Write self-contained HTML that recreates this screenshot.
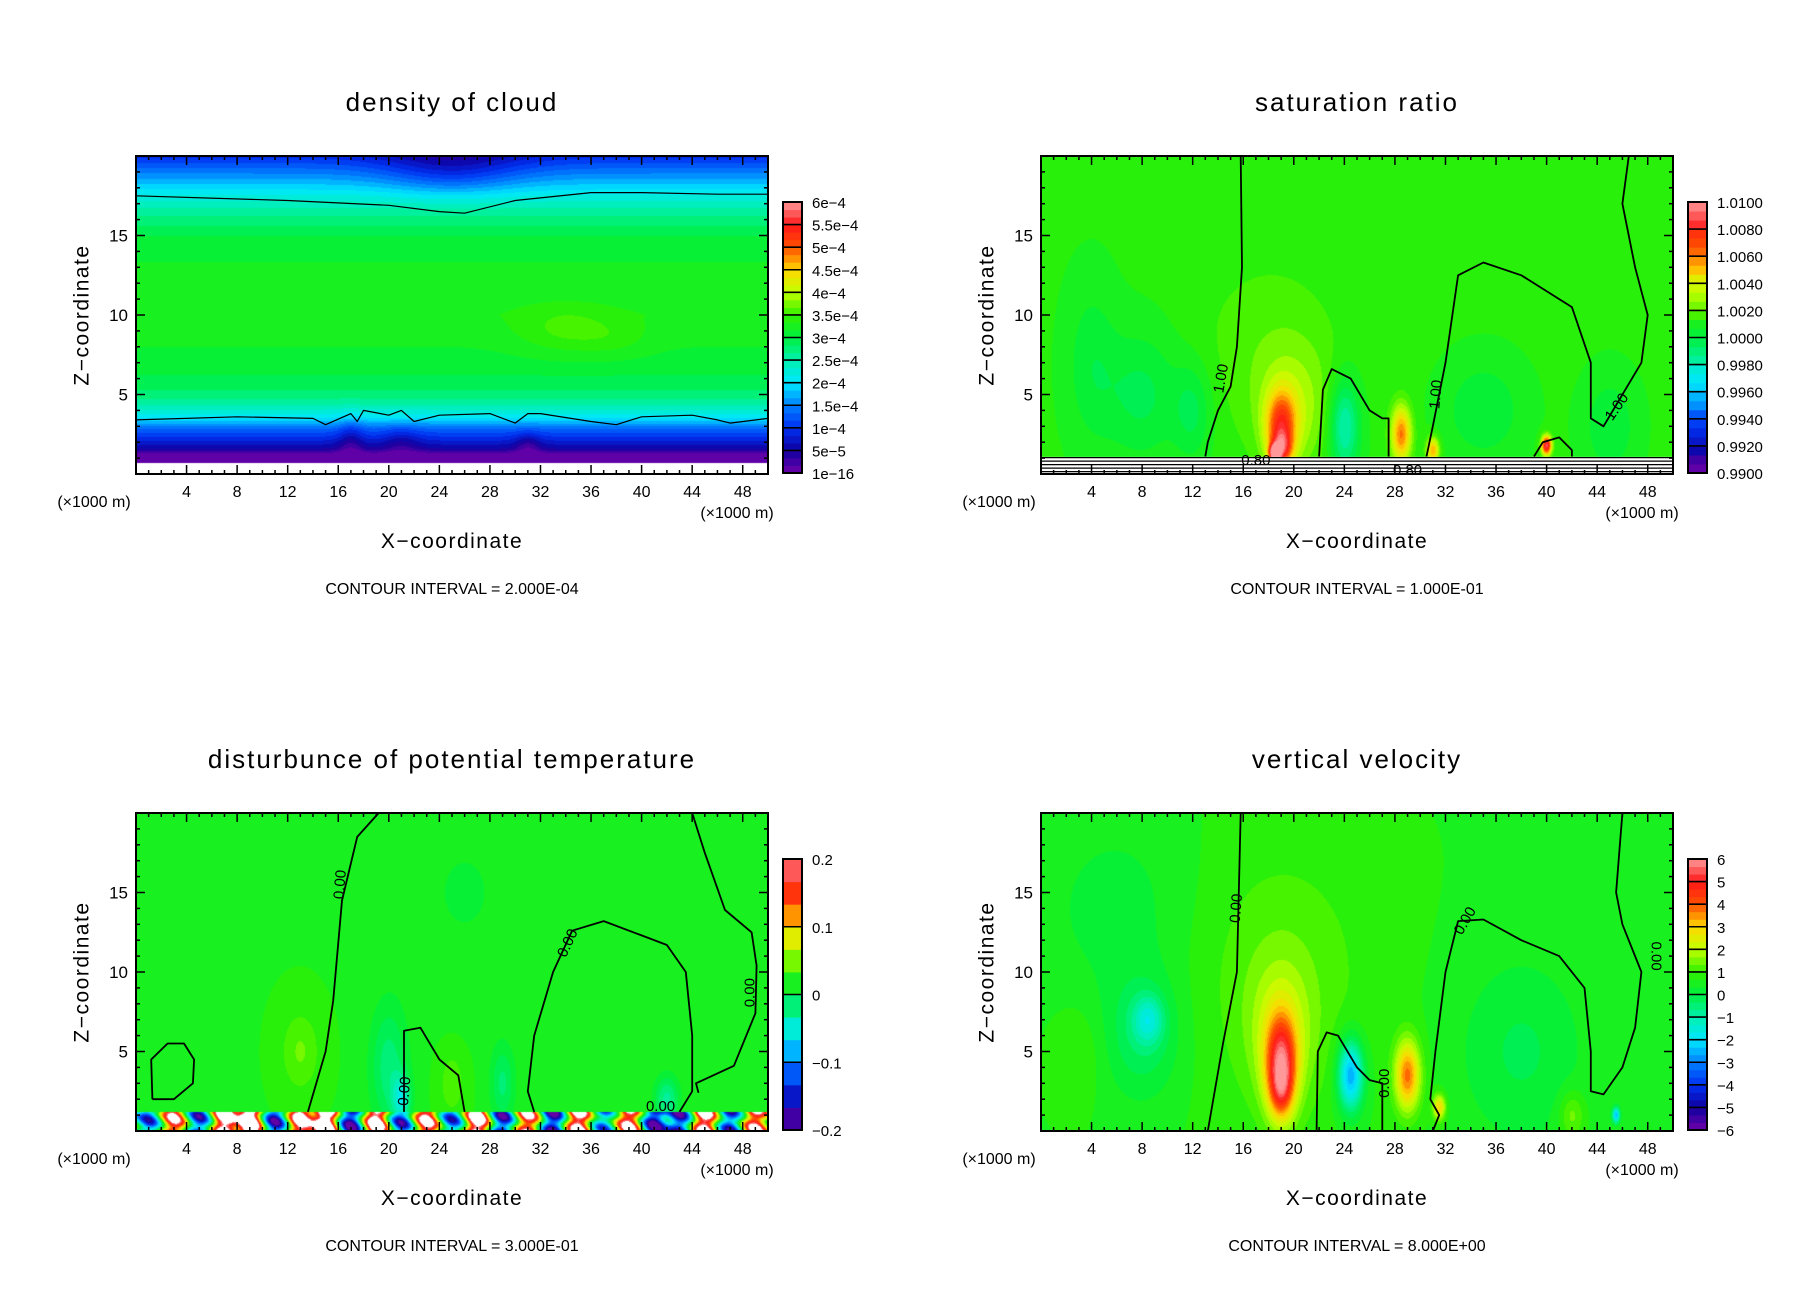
<!DOCTYPE html>
<html><head><meta charset="utf-8">
<style>
html,body{margin:0;padding:0;background:#fff;}
#root{position:relative;width:1808px;height:1308px;overflow:hidden;font-family:"Liberation Sans",sans-serif;}
canvas{position:absolute;}
svg{position:absolute;left:0;top:0;}
</style></head>
<body>
<div id="root">
<svg id="svg" width="1808" height="1308"></svg>
</div>
<script>
// ---------- data ----------
const p1ProfileZ = [0, 0.7, 0.71, 1.3, 1.6, 2.2, 2.8, 3.5, 4.5, 5.5, 7, 10, 13, 15, 16.5, 17.5, 18.5, 19.5, 20];
const p1ProfileV = [0, 0, 0.05, 0.15, 0.5, 0.9, 1.3, 2.0, 2.6, 2.9, 3.1, 3.3, 3.2, 3.0, 2.6, 2.2, 1.7, 1.2, 0.95];
const p1BlobX = [34, 38, 25, 25, 17, 21, 31];
const p1BlobZ = [9, 8.5, 20, 18.5, 2, 2, 1.8];
const p1BlobRX = [4, 3, 6, 5, 1, 1.5, 1];
const p1BlobRZ = [1.5, 1.2, 1.5, 1.2, 1.5, 1, 0.8];
const p1BlobV = [0.3, 0.15, -0.5, -0.3, -0.4, -0.3, -0.4];
const p1LowerX = [0,8,14,15,17,17.5,18,20,21,22,24,28,30,31,32,36,38,40,44,46,47,50];
const p1LowerZ = [3.4,3.6,3.5,3.1,3.8,3.3,4.0,3.7,4.0,3.3,3.7,3.8,3.2,3.8,3.8,3.3,3.1,3.6,3.7,3.4,3.2,3.5];
const p1UpperX = [0,12,20,24,26,30,36,40,46,50];
const p1UpperZ = [17.5,17.2,16.9,16.5,16.4,17.2,17.7,17.7,17.6,17.6];
const p1Labels = ["6e−4","5.5e−4","5e−4","4.5e−4","4e−4","3.5e−4","3e−4","2.5e−4","2e−4","1.5e−4","1e−4","5e−5","1e−16"];

const p2BlobX = [19, 19, 20, 18, 28.5, 31, 24, 8, 4, 12, 35, 45, 40, 18.5];
const p2BlobZ = [3, 1.6, 4, 8, 2.5, 1.5, 3, 5, 7, 4, 4, 3, 1.8, 1.3];
const p2BlobRX = [1.2, 0.8, 3, 6, 0.8, 0.5, 1.2, 3, 2, 1.5, 3, 2, 0.4, 0.4];
const p2BlobRZ = [2.2, 1, 4, 6, 1.8, 0.8, 3, 4, 5, 3, 3, 3, 0.6, 0.5];
const p2BlobV = [0.26, 0.2, 0.08, 0.04, 0.25, 0.22, -0.16, -0.07, -0.05, -0.07, -0.06, -0.06, 0.4, 0.45];
const p2ContourAX = [15.8,15.9,15.5,15.0,14.0,13.2,13.0];
const p2ContourAZ = [20,13,8,5.5,4,2,1.1];
const p2ContourBX = [22,22.3,23,24.5,26,27,27.5,27.5];
const p2ContourBZ = [1.1,5.3,6.6,6,4,3.5,3.5,1.1];
const p2ContourCX = [30.5,31,32,33,35,38,42,43.5,43.5,44.5,47.5,48,47,46,46.5];
const p2ContourCZ = [1.1,3,7,12.5,13.3,12.5,10.5,7,3.5,3,7,10,13,17,20];
const p2ContourDX = [39,39.7,41,42,42];
const p2ContourDZ = [1.1,2,2.3,1.5,1.1];
const p2Labels = ["1.0100","1.0080","1.0060","1.0040","1.0020","1.0000","0.9980","0.9960","0.9940","0.9920","0.9900"];

const p3BlobX = [20, 21, 29, 13, 25, 26, 42];
const p3BlobZ = [4, 2, 3, 5, 3, 15, 2];
const p3BlobRX = [1.5, 0.7, 1, 1.5, 1, 5, 1];
const p3BlobRZ = [4, 1.5, 2.5, 2.5, 2, 6, 1.5];
const p3BlobV = [-0.1, -0.15, -0.09, 0.06, 0.05, -0.03, -0.12];
const p3BandX = [1,3,5,7,9,11,13,15,17,19,21,23,25,27,29,31,33,35,37,39,41,43,45,47,49];
const p3BandV = [-0.35,0.45,-0.4,0.6,0.7,-0.45,0.55,0.7,-0.5,0.6,-0.4,0.5,-0.35,0.6,-0.45,0.45,-0.5,0.55,-0.3,0.5,-0.5,-0.45,0.55,-0.4,0.45];
const p3ContourAX = [13.6,15.0,15.6,16.3,17.5,19.2];
const p3ContourAZ = [1.2,5,8.2,14.5,18.5,20];
const p3ContourA2X = [44,45,46.6,48.7,49.1,49,47.3,44.3,44.5];
const p3ContourA2Z = [20,17.5,13.9,12.5,10.4,7.4,4.1,3.0,2.4];
const p3ContourBX = [21.2,21.2,22.5,24,25.5,26];
const p3ContourBZ = [1.2,6.3,6.5,4.5,3.5,1.2];
const p3ContourCX = [31.5,31,31.5,33,34.5,37,40,42,43.5,44,44,43];
const p3ContourCZ = [1.2,2.5,6,10,12.6,13.2,12.3,11.7,10,6,2.5,1.2];
const p3ContourDX = [1.3,1.2,2.5,3.8,4.6,4.5,3,1.3];
const p3ContourDZ = [2,4.5,5.5,5.5,4.5,3,2,2];
const p3Labels = ["0.2","0.1","0","−0.1","−0.2"];

const p4BlobX = [19, 19, 19, 19, 24.5, 29, 31.5, 8, 8.5, 3, 38, 45.5, 42, 6];
const p4BlobZ = [4, 2.5, 6, 10, 3.5, 3.5, 1.5, 6, 7, 5, 5, 1, 1, 14];
const p4BlobRX = [1.2, 0.8, 2.5, 7, 1, 1, 0.5, 3, 1.2, 2, 5, 0.3, 1, 6];
const p4BlobRZ = [3, 1.5, 4.5, 8, 2.2, 2.2, 0.8, 4, 1.5, 3, 6, 0.5, 1.5, 6];
const p4BlobV = [0.34, 0.1, 0.1, 0.05, -0.28, 0.26, 0.2, -0.08, -0.12, 0.03, -0.06, -0.25, 0.08, -0.04];
const p4ContourAX = [15.8,15.5,14.4,13.2];
const p4ContourAZ = [20,10,5.5,0];
const p4ContourBX = [21.8,21.9,22.6,23.5,25,26,27,27];
const p4ContourBZ = [0,5,6.2,6,4,3.2,3,0];
const p4ContourCX = [31,31.5,30.8,31.2,32,33,35,38,41,43,43.5,43.5,44.5,46,47,47.5,46,45.5,46];
const p4ContourCZ = [0,1,2,5,10,13.2,13.3,12,11,9,5,2.5,2.3,4,6.5,10,13,15,20];
const p4Labels = ["6","5","4","3","2","1","0","−1","−2","−3","−4","−5","−6"];

const xTickLabels = [4,8,12,16,20,24,28,32,36,40,44,48];
const zTickLabels = [5,10,15];

// ---------- layout ----------
const cmapStops = ['#7000a8','#1000a0','#0030f0','#0080ff','#00e8ff','#00f0b0','#00f040','#30f000','#c0ff00','#ffd800','#ff5000','#ff1818','#ff9898'];
function hex(c){return [parseInt(c.substr(1,2),16),parseInt(c.substr(3,2),16),parseInt(c.substr(5,2),16)];}
const cm = cmapStops.map(hex);
function colorAt(t){
  if(t<0)t=0; if(t>1)t=1;
  t=Math.floor(t*36)/36+1/72; if(t>1)t=1;
  const f=t*12, i=Math.min(11,Math.floor(f)), r=f-i;
  return cm[i].map((v,k)=>Math.round(v+(cm[i+1][k]-v)*r));
}
const svg=document.getElementById('svg');
const NS='http://www.w3.org/2000/svg';
function mk(tag,attrs,parent){const e=document.createElementNS(NS,tag);for(const k in attrs)e.setAttribute(k,attrs[k]);(parent||svg).appendChild(e);return e;}

const panels=[
 {ox:0,oy:0,title:'density of cloud',ci:'CONTOUR INTERVAL = 2.000E-04',labels:p1Labels,name:'density-of-cloud'},
 {ox:905,oy:0,title:'saturation ratio',ci:'CONTOUR INTERVAL = 1.000E-01',labels:p2Labels,name:'saturation-ratio'},
 {ox:0,oy:657,title:'disturbunce of potential temperature',ci:'CONTOUR INTERVAL = 3.000E-01',labels:p3Labels,name:'potential-temperature'},
 {ox:905,oy:657,title:'vertical velocity',ci:'CONTOUR INTERVAL = 8.000E+00',labels:p4Labels,name:'vertical-velocity'}
];
const PX0=136, PW=632, PY0=156, PH=318;
function interp(xs,ys,x){if(x<=xs[0])return ys[0];for(let i=1;i<xs.length;i++){if(x<=xs[i]){const r=(x-xs[i-1])/(xs[i]-xs[i-1]);return ys[i-1]+(ys[i]-ys[i-1])*r;}}return ys[ys.length-1];}
function blobs(X,Z,RX,RZ,V,x,z){let s=0;for(let i=0;i<X.length;i++){const dx=(x-X[i])/RX[i],dz=(z-Z[i])/RZ[i];s+=V[i]*Math.exp(-dx*dx-dz*dz);}return s;}

function field(p,x,z){
  if(p===0){
    if(z<0.7) return null;
    return (interp(p1ProfileZ,p1ProfileV,z)+blobs(p1BlobX,p1BlobZ,p1BlobRX,p1BlobRZ,p1BlobV,x,z))/6;
  }
  if(p===1){
    if(z<1.1) return null;
    return 0.56+blobs(p2BlobX,p2BlobZ,p2BlobRX,p2BlobRZ,p2BlobV,x,z);
  }
  if(p===2){
    if(z<1.2){let s=0.55;for(let i=0;i<p3BandX.length;i++){const dx=(x-p3BandX[i])/0.9;s+=p3BandV[i]*Math.exp(-dx*dx);}
      s+=0.15*Math.sin(z*5+x*1.3); if(s>1.0) return null; return s;}
    return 0.555+blobs(p3BlobX,p3BlobZ,p3BlobRX,p3BlobRZ,p3BlobV,x,z);
  }
  return 0.555+blobs(p4BlobX,p4BlobZ,p4BlobRX,p4BlobRZ,p4BlobV,x,z);
}

panels.forEach((P,pi)=>{
  const x0=PX0+P.ox, y0=PY0+P.oy;
  const sx=v=>x0+v*PW/50, sz=v=>y0+PH-v*PH/20;
  const cv=document.createElement('canvas');cv.width=PW;cv.height=PH;
  cv.style.left=x0+'px';cv.style.top=y0+'px';
  
  
  document.getElementById('root').insertBefore(cv,svg);
  const ctx=cv.getContext('2d'),img=ctx.createImageData(PW,PH);
  for(let j=0;j<PH;j++)for(let i=0;i<PW;i++){
    const t=field(pi,(i+0.5)*50/PW,(PH-j-0.5)*20/PH);
    const c=t===null?[255,255,255]:colorAt(t);const k=(j*PW+i)*4;
    img.data[k]=c[0];img.data[k+1]=c[1];img.data[k+2]=c[2];img.data[k+3]=255;
  }
  ctx.putImageData(img,0,0);
  const g=mk('g',{});
  
  
  function line(X,Z,nm,w){const pts=X.map((v,i)=>sx(v).toFixed(1)+','+sz(Z[i]).toFixed(1)).join(' ');
    const l=mk('polyline',{points:pts,fill:'none',stroke:'#000','stroke-width':w||1.8,'stroke-linejoin':'round'},g);
    
    }
  function lab(x,z,txt,rot){const t=mk('text',{x:sx(x),y:sz(z),'font-size':15,'text-anchor':'middle','dominant-baseline':'middle',transform:'rotate('+rot+' '+sx(x)+' '+sz(z)+')'},g);t.textContent=txt;
    
    }
  if(pi===0){line(p1LowerX,p1LowerZ,'contour-lower',1.2);line(p1UpperX,p1UpperZ,'contour-upper',1.2);}
  if(pi===1){line(p2ContourAX,p2ContourAZ,'contour-a');line(p2ContourBX,p2ContourBZ,'contour-b');line(p2ContourCX,p2ContourCZ,'contour-c');line(p2ContourDX,p2ContourDZ,'contour-d');
    for(let k=0;k<5;k++){const zz=0.15+k*0.22;const l=mk('line',{x1:sx(0),x2:sx(50),y1:sz(zz),y2:sz(zz),stroke:'#000','stroke-width':1.2},g);}
    lab(14.3,6,'1.00',-80);lab(31.3,5,'1.00',-85);lab(45.6,4.2,'1.00',-55);lab(17,0.8,'0.80',0);lab(29,0.2,'0.80',0);}
  if(pi===2){line(p3ContourAX,p3ContourAZ,'contour-a');line(p3ContourA2X,p3ContourA2Z,'contour-a2');line(p3ContourBX,p3ContourBZ,'contour-b');line(p3ContourCX,p3ContourCZ,'contour-c');line(p3ContourDX,p3ContourDZ,'contour-d');
    lab(16.2,15.5,'0.00',-85);lab(34.2,11.8,'0.00',-65);lab(48.6,8.7,'0.00',-90);lab(21.3,2.5,'0.00',-85);lab(41.5,1.5,'0.00',0);}
  if(pi===3){line(p4ContourAX,p4ContourAZ,'contour-a');line(p4ContourBX,p4ContourBZ,'contour-b');line(p4ContourCX,p4ContourCZ,'contour-c');
    lab(15.5,14,'0.00',-85);lab(33.6,13.2,'0.00',-60);lab(48.6,11,'0.00',90);lab(27.2,3,'0.00',-90);}
  const fr=mk('rect',{x:x0,y:y0,width:PW,height:PH,fill:'none',stroke:'#000','stroke-width':2},g);
  
  for(let v=1;v<50;v++){const L=v%4===0?9:4;
    mk('line',{x1:sx(v),x2:sx(v),y1:y0+PH,y2:y0+PH-L,stroke:'#000','stroke-width':1.5},g);
    mk('line',{x1:sx(v),x2:sx(v),y1:y0,y2:y0+L,stroke:'#000','stroke-width':1.5},g);}
  for(let v=1;v<20;v++){const L=v%5===0?9:4;
    mk('line',{x1:x0,x2:x0+L,y1:sz(v),y2:sz(v),stroke:'#000','stroke-width':1.5},g);
    mk('line',{x1:x0+PW,x2:x0+PW-L,y1:sz(v),y2:sz(v),stroke:'#000','stroke-width':1.5},g);}
  xTickLabels.forEach(v=>{const t=mk('text',{x:sx(v),y:y0+PH+23,'font-size':16,'text-anchor':'middle'},g);t.textContent=v;
    });
  zTickLabels.forEach(v=>{const t=mk('text',{x:x0-8,y:sz(v)+6,'font-size':17,'text-anchor':'end'},g);t.textContent=v;
    });
  function txt(x,y,s,fs,nm,extra){const t=mk('text',Object.assign({x:x,y:y,'font-size':fs,'text-anchor':'middle'},extra||{}),g);t.textContent=s;
    return t;}
  txt(x0+316,y0-45,P.title,26,'chart-title',{'letter-spacing':'2'});
  txt(x0-42,y0+PH+33,'(×1000 m)',16,'x-unit-left');
  txt(x0+PW-31,y0+PH+44,'(×1000 m)',16,'x-unit-right');
  txt(x0+316,y0+PH+74,'X−coordinate',21,'x-axis-title',{'letter-spacing':'1.5'});
  txt(x0+316,y0+PH+120,P.ci,16,'contour-interval');
  txt(x0-53,y0+159,'Z−coordinate',21,'z-axis-title',{'letter-spacing':'1.5',transform:'rotate(-90 '+(x0-53)+' '+(y0+159)+')','dominant-baseline':'middle'});
  const cbx=783+P.ox, cby=202+P.oy, cbw=19, cbh=271, n=P.labels.length-1;
  const steps=n*3;
  for(let k=0;k<steps;k++){const c=colorAt((k+0.5)/steps);const r=mk('rect',{x:cbx,y:cby+cbh-(k+1)*cbh/steps,width:cbw,height:cbh/steps+0.5,fill:'rgb('+c.join(',')+')'},g);
    }
  for(let k=0;k<=n;k++){const yy=cby+k*cbh/n;mk('line',{x1:cbx,x2:cbx+cbw,y1:yy,y2:yy,stroke:'#000','stroke-width':1.6},g);
    const t=mk('text',{x:cbx+29,y:yy+6,'font-size':15},g);t.textContent=P.labels[k];
    }
  const cr=mk('rect',{x:cbx,y:cby,width:cbw,height:cbh,fill:'none',stroke:'#000','stroke-width':2},g);
  
});
</script>
</body></html>
